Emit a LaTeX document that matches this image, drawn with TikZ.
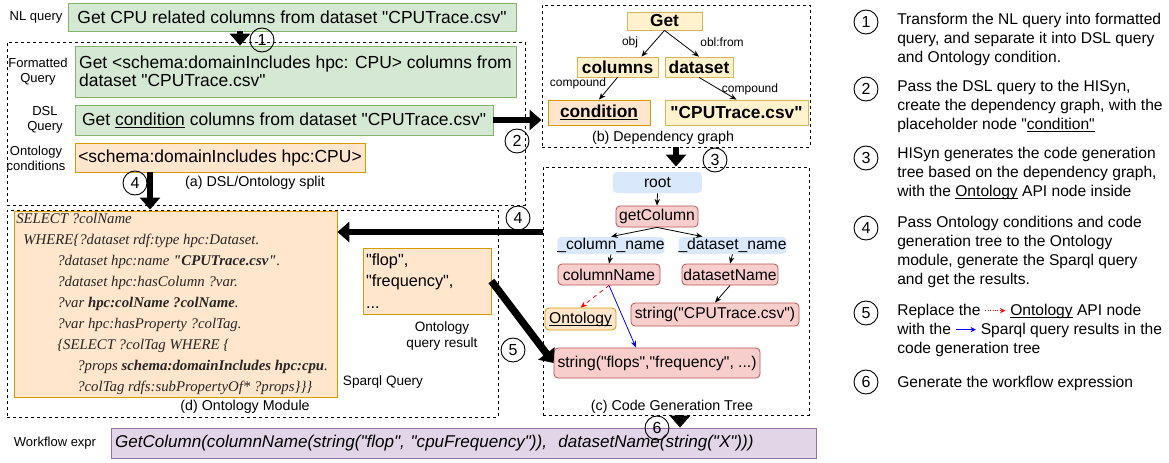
\documentclass[tikz,border=0pt]{standalone}
\usepackage{fontspec}
\setmainfont{Liberation Sans}[Ligatures=TeXOff]
\newfontfamily\sparqlfont{Liberation Serif}[Ligatures=TeXOff]
\usetikzlibrary{arrows.meta,calc,positioning}
\definecolor{greenfill}{HTML}{D5E8D4}
\definecolor{greenline}{HTML}{82B366}
\definecolor{orangefill}{HTML}{FFE6CC}
\definecolor{orangeline}{HTML}{D79B00}
\definecolor{yellowfill}{HTML}{FFF2CC}
\definecolor{yellowline}{HTML}{D6B656}
\definecolor{redfill}{HTML}{F8CECC}
\definecolor{redline}{HTML}{B85450}
\definecolor{bluefill}{HTML}{DAE8FC}
\definecolor{purplefill}{HTML}{E1D5E7}
\definecolor{purpleline}{HTML}{9673A6}
\newcommand{\uln}[1]{\underline{\smash{#1}}\vphantom{#1}}
\newcommand{\redarrow}{\tikz[baseline=-0.6ex]\draw[red,densely dotted,line width=0.8pt,-{Stealth[length=4pt,width=4pt]}] (0,0) -- (15pt,0);}
\newcommand{\bluearrow}{\tikz[baseline=-0.6ex]\draw[blue,line width=0.8pt,-{Stealth[length=4pt,width=4pt]}] (0,0) -- (15pt,0);}
\tikzset{
	wh/.style 2 args = {minimum width=#1*0.75pt, minimum height=#2*0.75pt},
	region/.style = {rectangle, draw, dash pattern=on 2.5pt off 2pt, line width=0.7pt, inner sep=0pt},
	box/.style = {rectangle, draw, line width=0.6pt, inner sep=0pt},
	greenbox/.style = {box, fill=greenfill, draw=greenline},
	orangebox/.style = {box, fill=orangefill, draw=orangeline},
	purplebox/.style = {box, fill=purplefill, draw=purpleline},
	depnode/.style = {box, fill=yellowfill, draw=yellowline, font=\fontsize{13}{15}\selectfont\bfseries},
	treenode/.style = {box, rounded corners=3pt, font=\fontsize{11.75}{14}\selectfont},
	rednode/.style = {treenode, fill=redfill, draw=redline},
	bluenode/.style = {treenode, fill=bluefill, draw=none},
	sidelabel/.style = {inner sep=0pt, align=center, font=\fontsize{9.75}{11.25}\selectfont},
	caption/.style = {inner sep=0pt, font=\fontsize{10.7}{12.5}\selectfont},
	edgelabel/.style = {inner sep=0pt, font=\fontsize{9}{10}\selectfont},
	stepcirc/.style = {circle, draw, line width=0.7pt, minimum size=18pt, inner sep=0pt, font=\fontsize{12}{12}\selectfont},
	steptext/.style = {anchor=west, align=left, inner sep=0pt, font=\fontsize{11.7}{14.25}\selectfont},
	thinarrow/.style = {line width=0.6pt, -{Stealth[length=5pt,width=4pt]}},
	bigarrow/.style = {line width=4.5pt, -{Triangle[length=9pt,width=15pt]}}
}

\begin{document}
\begin{tikzpicture}[x=0.75pt, y=-0.75pt, font=\fontsize{13.1}{15.7}\selectfont]
	\useasboundingbox (0,0) rectangle (1169,462);

	\node[region, wh={518}{163}] (rega) at (266,123.5) {};
	\node[region, wh={268}{142}] (regb) at (676,76) {};
	\node[region, wh={266}{248}] (regc) at (676,291) {};
	\node[region, wh={491}{207}] (regd) at (252.5,313.5) {};

	\node[sidelabel] (nllbl) at (36,17) {NL query};
	\node[greenbox, wh={448}{28}] (nl) at (292,17) {Get CPU related columns from dataset "CPUTrace.csv"};
	\node[sidelabel] (fqlbl) at (38,72) {Formatted\\Query};
	\node[greenbox, wh={441}{51}, align=left, font=\fontsize{13.1}{13.5}\selectfont] (fq) at (295.5,71.5) {Get <schema:domainIncludes hpc: CPU> columns from\\dataset "CPUTrace.csv"};
	\node[sidelabel] (dsllbl) at (45,120) {DSL\\Query};
	\node[greenbox, wh={418}{30}] (dsl) at (284,120) {Get \uln{condition} columns from dataset "CPUTrace.csv"};
	\node[sidelabel] (oclbl) at (36,158) {Ontology\\conditions};
	\node[orangebox, wh={290}{29}] (oc) at (220,157.5) {<schema:domainIncludes hpc:CPU>};
	\node[caption] (capa) at (255,183) {(a) DSL/Ontology split};

	\node[depnode, wh={75}{18}] (get) at (664.5,21) {Get};
	\node[depnode, wh={81}{20}] (columns) at (617.5,67) {columns};
	\node[depnode, wh={68}{20}] (dataset) at (699,67) {dataset};
	\node[depnode, wh={102}{25}, fill=orangefill, draw=orangeline] (condition) at (599,112.5) {\uln{condition}};
	\node[depnode, wh={143}{25}] (cputrace) at (736.5,112.5) {"CPUTrace.csv"};
	\draw[thinarrow] (get.south) -- ($(columns.north)+(24,0)$);
	\draw[thinarrow] (get.south) -- (dataset.north);
	\draw[thinarrow] (columns.south) -- (condition.north);
	\draw[thinarrow] (dataset.south) -- (cputrace.north);
	\node[edgelabel] (objlbl) at (630,42) {obj};
	\node[edgelabel] (obllbl) at (722,42) {obl:from};
	\node[edgelabel] (cmplbla) at (578,83) {compound};
	\node[edgelabel] (cmplblb) at (750,89) {compound};
	\node[caption] (capb) at (663,138) {(b) Dependency graph};

	\node[bluenode, wh={89}{21}] (root) at (657.5,182.5) {root};
	\node[rednode, wh={82}{21}] (getcol) at (657,216.5) {getColumn};
	\node[bluenode, wh={106}{17}] (colslot) at (611,245.5) {\_column\_name};
	\node[bluenode, wh={103}{17}] (dsslot) at (732.5,245.5) {\_dataset\_name};
	\node[rednode, wh={102}{21}] (colname) at (609,274.5) {columnName};
	\node[rednode, wh={96}{21}] (dsname) at (730,274.5) {datasetName};
	\node[treenode, wh={71}{22}, fill=orangefill, draw=orangeline] (ontology) at (580.5,319) {\uln{Ontology}};
	\node[rednode, wh={168}{23}] (strcpu) at (715,314.5) {string("CPUTrace.csv")};
	\node[rednode, wh={206}{30}] (strflops) at (657,363) {string("flops","frequency", ...)};
	\draw[thinarrow] (root.south) -- (getcol.north);
	\draw[thinarrow] (getcol.south) -- (colslot.north);
	\draw[thinarrow] (getcol.south) -- ($(dsslot.north)+(-30,0)$);
	\draw[thinarrow] (colslot.south) -- (colname.north);
	\draw[thinarrow] (dsslot.south) -- (dsname.north);
	\draw[thinarrow] (dsname.south) -- (strcpu.north);
	\draw[thinarrow, red, dashed] (colname.south) -- (ontology.north);
	\draw[thinarrow, blue] (colname.south) -- ($(strflops.north)+(-21,0)$);
	\node[caption] (capc) at (672,407) {(c) Code Generation Tree};

	\node[orangebox, wh={323}{186}] (sparql) at (175.5,304) {};
	\node[anchor=west, align=left, inner sep=0pt, text=black!85, font=\sparqlfont\itshape\fontsize{11.1}{15.75}\selectfont] (sparqltxt) at (16,304) {SELECT ?colName\\
		\hspace*{5.25pt}WHERE\{?dataset rdf:type hpc:Dataset.\\
		\hspace*{30.75pt}?dataset hpc:name \textbf{"CPUTrace.csv"}.\\
		\hspace*{30.75pt}?dataset hpc:hasColumn ?var.\\
		\hspace*{30.75pt}?var \textbf{hpc:colName ?colName}.\\
		\hspace*{30.75pt}?var hpc:hasProperty ?colTag.\\
		\hspace*{30.75pt}\{SELECT ?colTag WHERE \{\\
		\hspace*{45.75pt}?props \textbf{schema:domainIncludes hpc:cpu}.\\
		\hspace*{45.75pt}?colTag rdfs:subPropertyOf* ?props\}\}\}};
	\node[caption, font=\fontsize{10.2}{12}\selectfont] (sparqllbl) at (383,382) {Sparql Query};
	\node[orangebox, wh={128}{66}, text width=91.5pt, align=left, font=\fontsize{12.2}{16}\selectfont] (result) at (427,281) {"flop",\\"frequency",\\...};
	\node[caption, align=center, font=\fontsize{10.2}{12}\selectfont] (resultlbl) at (442,336) {Ontology\\query result};
	\node[caption] (capd) at (245,407) {(d) Ontology Module};

	\node[sidelabel] (wflbl) at (55,443) {Workflow expr};
	\node[purplebox, wh={705}{30}, text width=522.75pt, align=left, font=\fontsize{12.8}{15}\selectfont\itshape] (wf) at (463.5,443) {GetColumn(columnName(string("flop", "cpuFrequency")),~ datasetName(string("X")))};

	\coordinate (a4top) at ($(oc.south)+(-70,0)$);
	\coordinate (a4mid) at (0,232);
	\coordinate (a6top) at ($(regc.south)+(4,0)$);
	\draw[bigarrow] ($(nl.south)+(-52,0)$) -- ($(fq.north)+(-55.5,0)$);
	\draw[bigarrow] (dsl.east) -- (dsl.east -| regb.west);
	\draw[bigarrow] (regb.south) -- (regc.north);
	\draw[bigarrow] (a4top) -- (a4top |- regd.north);
	\draw[bigarrow] (regc.west |- a4mid) -- (sparql.east |- a4mid);
	\draw[bigarrow, line width=5.5pt] (result.east) -- (strflops.west);
	\draw[bigarrow] (a6top) -- (a6top |- wf.north);

	\node[stepcirc] (s1) at (262,40) {1};
	\node[stepcirc] (s2) at (517,141) {2};
	\node[stepcirc] (s3) at (715,160) {3};
	\node[stepcirc] (s4a) at (135,183) {4};
	\node[stepcirc] (s4b) at (518,218) {4};
	\node[stepcirc] (s5) at (513,350) {5};
	\node[stepcirc] (s6) at (657,428) {6};

	\node[stepcirc] (r1) at (866,22) {1};
	\node[steptext] (t1) at (897,39) {Transform the NL query into formatted\\query, and separate it into DSL query\\and Ontology condition.};
	\node[stepcirc] (r2) at (866,89) {2};
	\node[steptext] (t2) at (897,106.5) {Pass the DSL query to the HISyn,\\create the dependency graph, with the\\placeholder node "\uln{condition"}};
	\node[stepcirc] (r3) at (866,158) {3};
	\node[steptext] (t3) at (897,173.5) {HISyn generates the code generation\\tree based on the dependency graph,\\with the \uln{Ontology} API node inside};
	\node[stepcirc] (r4) at (866,228) {4};
	\node[steptext] (t4) at (897,251.5) {Pass Ontology conditions and code\\generation tree to the Ontology\\module, generate the Sparql query\\and get the results.};
	\node[stepcirc] (r5) at (866,313) {5};
	\node[steptext] (t5) at (897,330.5) {Replace the \redarrow\ \uln{Ontology} API node\\with the \bluearrow\ Sparql query results in the\\code generation tree};
	\node[stepcirc] (r6) at (866,382) {6};
	\node[steptext] (t6) at (897,383) {Generate the workflow expression};
\end{tikzpicture}
\end{document}
